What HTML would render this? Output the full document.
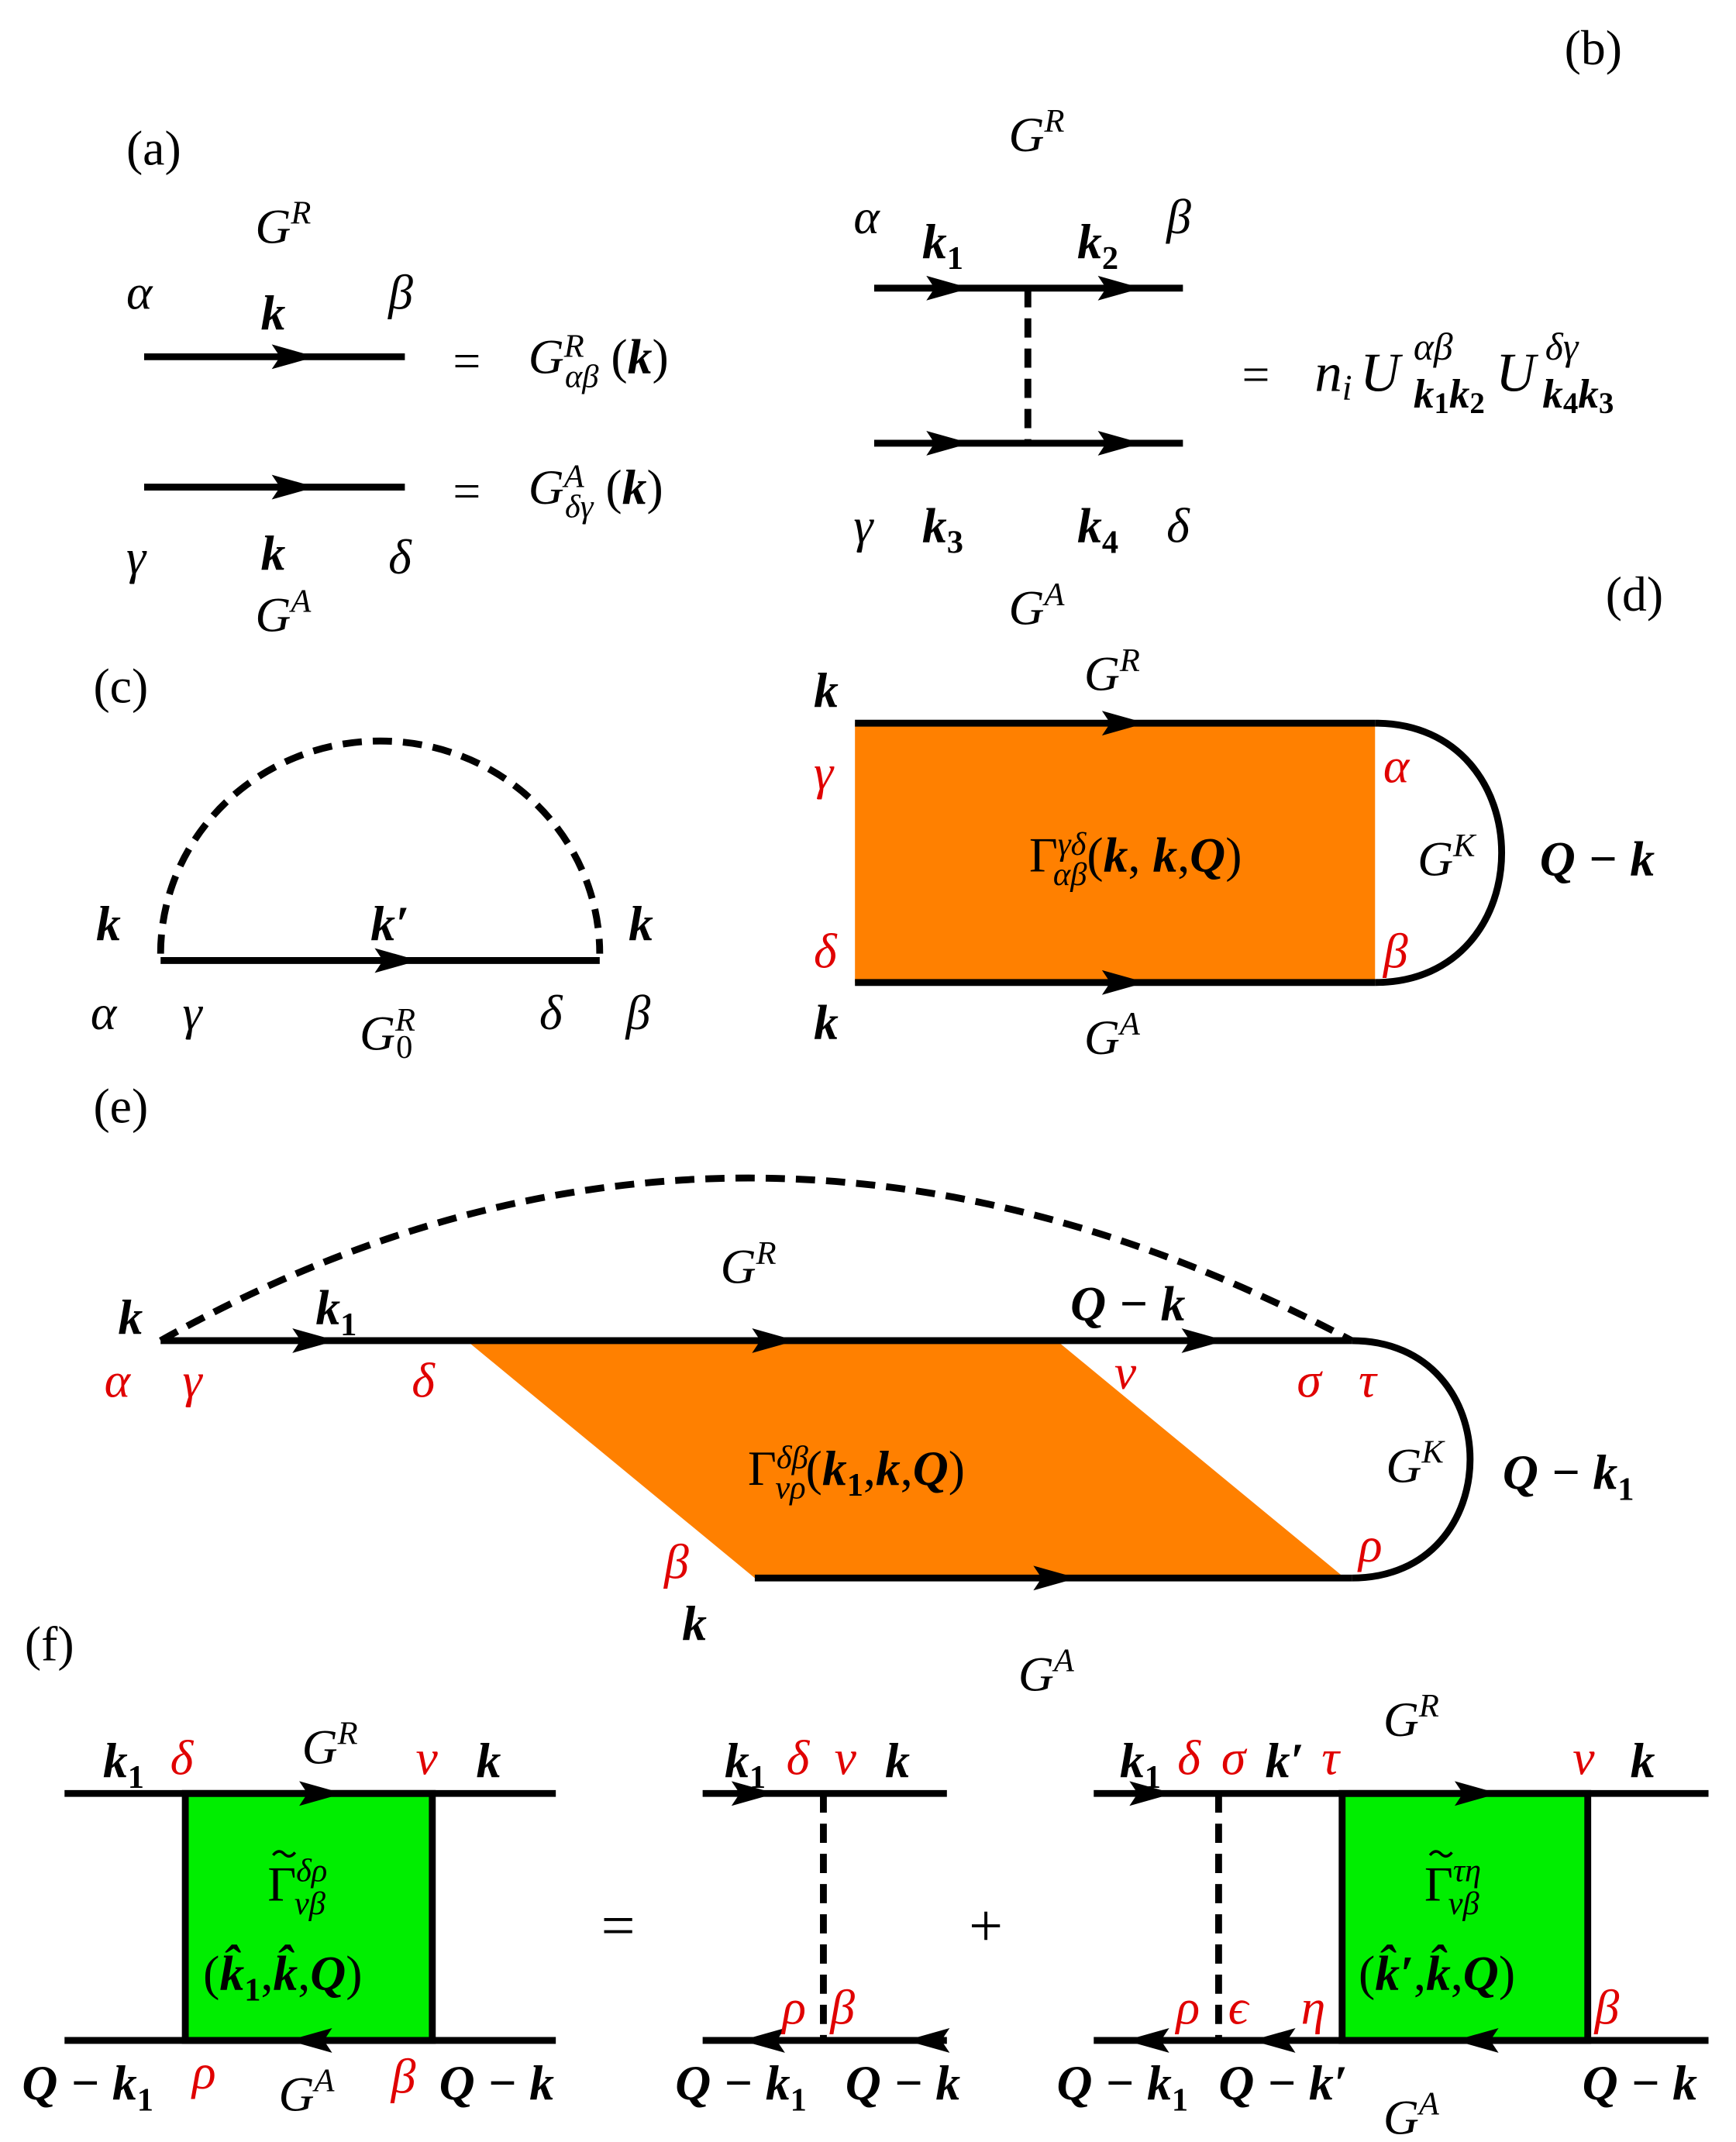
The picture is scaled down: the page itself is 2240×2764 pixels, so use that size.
<!DOCTYPE html>
<html><head><meta charset="utf-8"><style>
html,body{margin:0;padding:0;background:#fff}
svg{display:block}
text{font-family:"Liberation Serif",serif;font-size:36px;font-style:italic}
.n{font-style:normal}
.b{font-weight:bold;font-style:italic}
.r{fill:#e00000}
.s{font-size:24px}
</style></head><body>
<svg width="2240" height="2764" viewBox="0 0 1265 1561" xmlns="http://www.w3.org/2000/svg">
<defs>
<polygon id="ar" points="-32,-9 0,0 -32,9 -26,0"/>
<polygon id="al" points="32,-9 0,0 32,9 26,0"/>
</defs>
<g stroke="#000" stroke-width="5" fill="none">
<line x1="105" y1="260" x2="295" y2="260"/>
<line x1="105" y1="355" x2="295" y2="355"/>
<line x1="637" y1="210" x2="862" y2="210"/>
<line x1="637" y1="323" x2="862" y2="323"/>
<line x1="749" y1="210" x2="749" y2="323" stroke-dasharray="14,8"/>
<path d="M117,695 A160,155 0 0 1 437,695" stroke-dasharray="14,8"/>
<line x1="117" y1="700" x2="437" y2="700"/>
</g>
<rect x="623" y="527" width="379" height="189" fill="#ff8000"/>
<g stroke="#000" stroke-width="5" fill="none">
<line x1="623" y1="527" x2="1002" y2="527"/>
<line x1="623" y1="716" x2="1002" y2="716"/>
<path d="M1002,527 C1125,527 1125,716 1002,716"/>
</g>
<polygon points="340,977 770,977 980,1150 550,1150" fill="#ff8000"/>
<g stroke="#000" stroke-width="5" fill="none">
<path d="M117,977 Q540,740 985,977" stroke-dasharray="14,8"/>
<line x1="117" y1="977" x2="985" y2="977"/>
<line x1="550" y1="1150" x2="985" y2="1150"/>
<path d="M985,977 C1100,977 1100,1150 985,1150"/>
</g>
<rect x="135" y="1307" width="180" height="180" fill="#00ee00" stroke="#000" stroke-width="5"/>
<rect x="978" y="1307" width="179" height="180" fill="#00ee00" stroke="#000" stroke-width="5"/>
<g stroke="#000" stroke-width="5" fill="none">
<line x1="47" y1="1307" x2="405" y2="1307"/>
<line x1="47" y1="1487" x2="405" y2="1487"/>
<line x1="512" y1="1307" x2="690" y2="1307"/>
<line x1="512" y1="1487" x2="690" y2="1487"/>
<line x1="600" y1="1307" x2="600" y2="1487" stroke-dasharray="14,8"/>
<line x1="797" y1="1307" x2="1245" y2="1307"/>
<line x1="797" y1="1487" x2="1245" y2="1487"/>
<line x1="888" y1="1307" x2="888" y2="1487" stroke-dasharray="14,8"/>
</g>
<g fill="#000">
<use href="#ar" x="230" y="260"/><use href="#ar" x="230" y="355"/>
<use href="#ar" x="707" y="210"/><use href="#ar" x="832" y="210"/>
<use href="#ar" x="707" y="323"/><use href="#ar" x="832" y="323"/>
<use href="#ar" x="305" y="700"/>
<use href="#ar" x="835" y="527"/><use href="#ar" x="835" y="716"/>
<use href="#ar" x="245" y="977"/><use href="#ar" x="580" y="977"/><use href="#ar" x="893" y="977"/>
<use href="#ar" x="785" y="1150"/>
<use href="#ar" x="250" y="1307"/><use href="#al" x="210" y="1487"/>
<use href="#ar" x="565" y="1307"/><use href="#al" x="540" y="1487"/><use href="#al" x="660" y="1487"/>
<use href="#ar" x="855" y="1307"/><use href="#ar" x="1092" y="1307"/>
<use href="#al" x="820" y="1487"/><use href="#al" x="912" y="1487"/><use href="#al" x="1060" y="1487"/>
</g>
<g stroke="#000" stroke-width="2" fill="none">
<path d="M199,1352 q4,-5 8,-1 q4,4 8,-1"/>
<path d="M1042,1352 q4,-5 8,-1 q4,4 8,-1"/>
</g>
<!-- (a) -->
<text class="n" x="92" y="120">(a)</text>
<text x="186" y="177">G<tspan class="s" dy="-14">R</tspan></text>
<text x="92" y="225">α</text><text class="b" x="190" y="240">k</text><text x="283" y="225">β</text>
<text class="n" x="330" y="275">=</text>
<text x="385" y="272">G<tspan class="s" dy="-12">R</tspan><tspan class="s" dx="-14" dy="22">αβ</tspan><tspan class="n" dy="-10"> (</tspan><tspan class="b">k</tspan><tspan class="n">)</tspan></text>
<text class="n" x="330" y="370">=</text>
<text x="385" y="367">G<tspan class="s" dy="-12">A</tspan><tspan class="s" dx="-14" dy="22">δγ</tspan><tspan class="n" dy="-10"> (</tspan><tspan class="b">k</tspan><tspan class="n">)</tspan></text>
<text x="92" y="418">γ</text><text class="b" x="190" y="415">k</text><text x="283" y="418">δ</text>
<text x="186" y="460">G<tspan class="s" dy="-14">A</tspan></text>
<!-- (b) -->
<text class="n" x="1140" y="47">(b)</text>
<text x="735" y="110">G<tspan class="s" dy="-14">R</tspan></text>
<text x="622" y="170">α</text><text class="b" x="672" y="188">k<tspan class="s n" style="font-weight:bold" dy="8">1</tspan></text>
<text class="b" x="785" y="188">k<tspan class="s n" style="font-weight:bold" dy="8">2</tspan></text><text x="850" y="170">β</text>
<text class="n" x="905" y="285">=</text>
<text x="958" y="285" style="font-size:40px">n<tspan class="s" style="font-size:26px" dy="6">i</tspan><tspan dx="6" dy="-6">U</tspan></text>
<text x="1030" y="262" style="font-size:28px">αβ</text>
<text class="b" x="1030" y="297" style="font-size:30px">k<tspan class="n" style="font-size:22px;font-weight:bold" dy="4">1</tspan><tspan dy="-4">k</tspan><tspan class="n" style="font-size:22px;font-weight:bold" dy="4">2</tspan></text>
<text x="1090" y="285" style="font-size:40px">U</text>
<text x="1126" y="262" style="font-size:28px">δγ</text>
<text class="b" x="1124" y="297" style="font-size:30px">k<tspan class="n" style="font-size:22px;font-weight:bold" dy="4">4</tspan><tspan dy="-4">k</tspan><tspan class="n" style="font-size:22px;font-weight:bold" dy="4">3</tspan></text>
<text x="622" y="395">γ</text><text class="b" x="672" y="395">k<tspan class="s n" style="font-weight:bold" dy="8">3</tspan></text>
<text class="b" x="785" y="395">k<tspan class="s n" style="font-weight:bold" dy="8">4</tspan></text><text x="850" y="395">δ</text>
<text x="735" y="455">G<tspan class="s" dy="-14">A</tspan></text>
<!-- (c) -->
<text class="n" x="68" y="512">(c)</text>
<text class="b" x="70" y="685">k</text><text class="b" x="270" y="685">k′</text><text class="b" x="458" y="685">k</text>
<text x="66" y="750">α</text><text x="133" y="750">γ</text>
<text x="262" y="765">G<tspan class="s" dy="-14">R</tspan><tspan class="s n" dx="-14" dy="20">0</tspan></text>
<text x="393" y="750">δ</text><text x="456" y="750">β</text>
<!-- (d) -->
<text class="n" x="1170" y="445">(d)</text>
<text class="b" x="593" y="515">k</text>
<text x="790" y="503">G<tspan class="s" dy="-14">R</tspan></text>
<text class="r" x="593" y="575">γ</text><text class="r" x="593" y="705">δ</text>
<text class="r" x="1008" y="570">α</text><text class="r" x="1008" y="705">β</text>
<text x="750" y="635"><tspan class="n">Γ</tspan><tspan class="s" dy="-12">γδ</tspan><tspan class="s" dx="-24" dy="22">αβ</tspan><tspan class="n" dy="-10">(</tspan><tspan class="b">k</tspan><tspan class="n">, </tspan><tspan class="b">k</tspan><tspan class="n">,</tspan><tspan class="b">Q</tspan><tspan class="n">)</tspan></text>
<text x="1033" y="638">G<tspan class="s" dy="-14">K</tspan></text>
<text class="b" x="1122" y="638">Q − k</text>
<text class="b" x="593" y="757">k</text>
<text x="790" y="768">G<tspan class="s" dy="-14">A</tspan></text>
<!-- (e) -->
<text class="n" x="68" y="818">(e)</text>
<text class="b" x="86" y="972">k</text>
<text class="b" x="230" y="965">k<tspan class="s n" style="font-weight:bold" dy="8">1</tspan></text>
<text x="525" y="935">G<tspan class="s" dy="-14">R</tspan></text>
<text class="b" x="780" y="962">Q − k</text>
<text class="r" x="76" y="1018">α</text><text class="r" x="133" y="1018">γ</text><text class="r" x="300" y="1018">δ</text>
<text class="r" x="812" y="1012">ν</text><text class="r" x="945" y="1018">σ</text><text class="r" x="990" y="1018">τ</text>
<text x="545" y="1082"><tspan class="n">Γ</tspan><tspan class="s" dy="-12">δβ</tspan><tspan class="s" dx="-24" dy="22">νρ</tspan><tspan class="n" dy="-10">(</tspan><tspan class="b">k<tspan class="s n" style="font-weight:bold" dy="8">1</tspan></tspan><tspan class="n" dy="-8">,</tspan><tspan class="b">k</tspan><tspan class="n">,</tspan><tspan class="b">Q</tspan><tspan class="n">)</tspan></text>
<text x="1010" y="1080">G<tspan class="s" dy="-14">K</tspan></text>
<text class="b" x="1095" y="1085">Q − k<tspan class="s n" style="font-weight:bold" dy="8">1</tspan></text>
<text class="r" x="484" y="1150">β</text><text class="r" x="990" y="1138">ρ</text>
<text class="b" x="497" y="1195">k</text>
<text x="742" y="1232">G<tspan class="s" dy="-14">A</tspan></text>
<!-- (f) -->
<text class="n" x="18" y="1210">(f)</text>
<text class="b" x="75" y="1295">k<tspan class="s n" style="font-weight:bold" dy="8">1</tspan></text>
<text class="r" x="124" y="1293">δ</text>
<text x="220" y="1285">G<tspan class="s" dy="-14">R</tspan></text>
<text class="r" x="303" y="1293">ν</text><text class="b" x="347" y="1295">k</text>
<text x="195" y="1385"><tspan class="n">Γ</tspan><tspan class="s" dy="-14">δρ</tspan><tspan class="s" dx="-24" dy="24">νβ</tspan></text>
<text x="148" y="1450"><tspan class="n">(</tspan><tspan class="b">k̂<tspan class="s n" style="font-weight:bold" dy="8">1</tspan></tspan><tspan class="n" dy="-8">,</tspan><tspan class="b">k̂</tspan><tspan class="n">,</tspan><tspan class="b">Q</tspan><tspan class="n">)</tspan></text>
<text class="b" x="16" y="1530">Q − k<tspan class="s n" style="font-weight:bold" dy="8">1</tspan></text>
<text class="r" x="140" y="1522">ρ</text>
<text x="203" y="1538">G<tspan class="s" dy="-14">A</tspan></text>
<text class="r" x="285" y="1525">β</text>
<text class="b" x="320" y="1530">Q − k</text>
<text class="n" x="438" y="1418" style="font-size:44px">=</text>
<text class="b" x="528" y="1295">k<tspan class="s n" style="font-weight:bold" dy="8">1</tspan></text>
<text class="r" x="573" y="1293">δ</text><text class="r" x="608" y="1293">ν</text><text class="b" x="645" y="1295">k</text>
<text class="r" x="570" y="1475">ρ</text><text class="r" x="605" y="1475">β</text>
<text class="b" x="492" y="1530">Q − k<tspan class="s n" style="font-weight:bold" dy="8">1</tspan></text>
<text class="b" x="616" y="1530">Q − k</text>
<text class="n" x="706" y="1418" style="font-size:44px">+</text>
<text class="b" x="816" y="1295">k<tspan class="s n" style="font-weight:bold" dy="8">1</tspan></text>
<text class="r" x="858" y="1293">δ</text><text class="r" x="890" y="1293">σ</text>
<text class="b" x="922" y="1295">k′</text><text class="r" x="963" y="1293">τ</text>
<text x="1008" y="1265">G<tspan class="s" dy="-14">R</tspan></text>
<text class="r" x="1146" y="1293">ν</text><text class="b" x="1188" y="1295">k</text>
<text x="1038" y="1385"><tspan class="n">Γ</tspan><tspan class="s" dy="-14">τη</tspan><tspan class="s" dx="-24" dy="24">νβ</tspan></text>
<text x="990" y="1450"><tspan class="n">(</tspan><tspan class="b">k̂′</tspan><tspan class="n">,</tspan><tspan class="b">k̂</tspan><tspan class="n">,</tspan><tspan class="b">Q</tspan><tspan class="n">)</tspan></text>
<text class="r" x="857" y="1475">ρ</text><text class="r" x="895" y="1475">ϵ</text><text class="r" x="948" y="1475">η</text>
<text class="r" x="1162" y="1475">β</text>
<text class="b" x="770" y="1530">Q − k<tspan class="s n" style="font-weight:bold" dy="8">1</tspan></text>
<text class="b" x="888" y="1530">Q − k′</text>
<text x="1008" y="1555">G<tspan class="s" dy="-14">A</tspan></text>
<text class="b" x="1153" y="1530">Q − k</text>
</svg>
</body></html>
